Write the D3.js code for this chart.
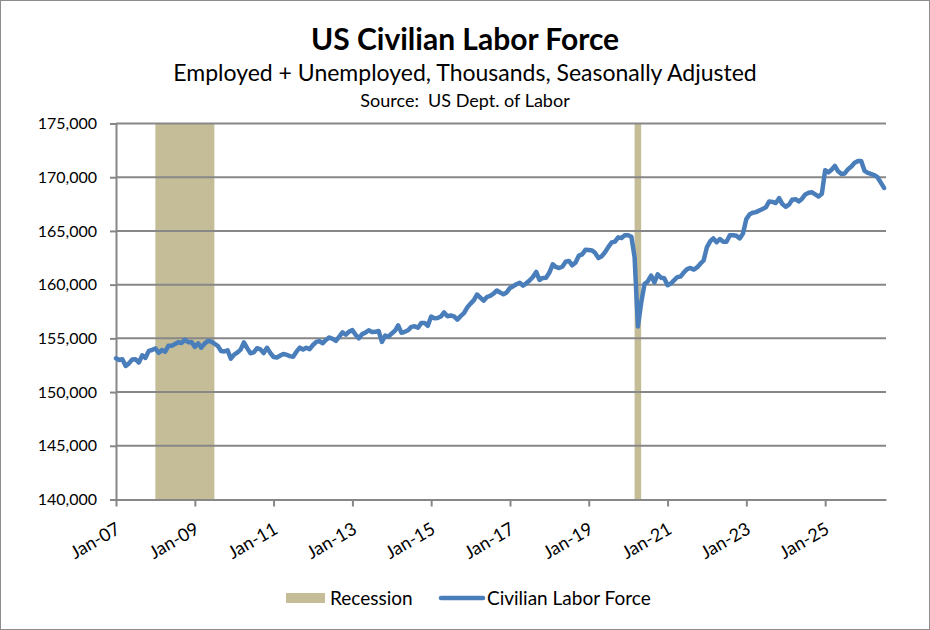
<!DOCTYPE html>
<html>
<head>
<meta charset="utf-8">
<script src="https://cdn.jsdelivr.net/npm/d3@7"></script>
<style>
  html, body { margin: 0; padding: 0; background: #fff; }
  svg { display: block; font-family: Lato, "Open Sans", sans-serif; }
  text { white-space: pre; }
</style>
</head>
<body>
<svg id="chart" width="930" height="630"></svg>
<script>
// ---- Data (thousands, monthly, seasonally adjusted), starting Jan 2007 ----
const seriesStart = "2007-01";
const clf2007 = [153144,152983,153051,152435,152670,153041,153054,152749,153414,153183,153835,153918];
const clf2008 = [154063,153653,153908,153769,154303,154313,154469,154641,154570,154876,154639,154655];
const clf2009 = [154210,154538,154133,154509,154747,154716,154502,154307,153827,153784,153878,153111];
const clf2010 = [153484,153694,153954,154622,154091,153616,153691,154086,153975,153635,154125,153650];
const clf2011 = [153263,153214,153376,153543,153479,153346,153288,153760,154131,153961,154128,153995];
const clf2012 = [154381,154671,154749,154545,154866,155083,154948,154763,155160,155554,155338,155628];
const clf2013 = [155763,155312,155005,155394,155536,155749,155599,155605,155687,154673,155265,155160];
const clf2014 = [155460,155724,156209,155515,155611,155752,156071,156118,155982,156422,156441,156170];
const clf2015 = [157025,156878,156890,157032,157410,157064,157131,157044,156746,157068,157343,157869];
const clf2016 = [158232,158561,159082,158788,158502,158850,158961,159161,159454,159267,159107,159274];
const clf2017 = [159693,159854,160036,160169,159910,160124,160383,160706,161190,160436,160626,160636];
const clf2018 = [161123,161900,161646,161551,161667,162129,162209,161802,162055,162694,162821,163240];
const clf2019 = [163229,163184,162960,162470,162646,163017,163492,163922,164004,164401,164347,164600];
const clf2020 = [164600,164450,162550,156100,158300,160050,160300,160850,160200,160950,160650,160600];
const clf2021 = [159950,160100,160400,160700,160750,161150,161450,161550,161400,161600,161950,162250];
const clf2022 = [163500,164050,164300,163950,164250,164000,164000,164600,164600,164550,164300,164750];
const clf2023 = [166100,166550,166700,166750,166900,167050,167200,167750,167700,167600,168050,167500];
const clf2024 = [167250,167450,167900,167950,167750,168000,168400,168550,168600,168400,168200,168450];
const clf2025 = [170650,170450,170700,171050,170550,170300,170350,170750,171000,171350,171500,171500];
const clf2026 = [170600,170400,170300,170200,170000,169500,169000];

// Recession periods (months flagged as recession: first and last flagged month)
const recessionStarts = ["2008-01", "2020-03"];
const recessionEnds   = ["2009-06", "2020-04"];

const yTicks = [140000,145000,150000,155000,160000,165000,170000,175000];
const xTickLabels = ["Jan-07","Jan-09","Jan-11","Jan-13","Jan-15","Jan-17","Jan-19","Jan-21","Jan-23","Jan-25"];
const xTickDates  = ["2007-01","2009-01","2011-01","2013-01","2015-01","2017-01","2019-01","2021-01","2023-01","2025-01"];

const titleText = "US Civilian Labor Force";
const subtitleText = "Employed + Unemployed, Thousands, Seasonally Adjusted";
const sourceText = "Source:  US Dept. of Labor";
const legendLabels = ["Recession", "Civilian Labor Force"];

// ---- Build ----
const parseMonth = d3.timeParse("%Y-%m");
const allValues = [].concat(clf2007,clf2008,clf2009,clf2010,clf2011,clf2012,clf2013,clf2014,
  clf2015,clf2016,clf2017,clf2018,clf2019,clf2020,clf2021,clf2022,clf2023,clf2024,clf2025,clf2026);
const start = parseMonth(seriesStart);
const data = allValues.map((v, i) => ({ date: d3.timeMonth.offset(start, i), value: v }));

const svg = d3.select("#chart");
const W = 930, H = 630;
const plot = { left: 116, right: 886, top: 123.5, bottom: 499.5 };

const lastDate = data[data.length - 1].date;
const x = d3.scaleTime()
  .domain([start, d3.timeDay.offset(lastDate, 18)])
  .range([plot.left, plot.right]);
const y = d3.scaleLinear().domain([140000, 175000]).range([plot.bottom, plot.top]);

const gridColor = "#878787";
const lineColor = "#4A7EBB";
const recColor = "#C4BD97";

// outer border
svg.append("rect").attr("x", 0.5).attr("y", 0.5).attr("width", W - 1).attr("height", H - 1)
  .attr("fill", "#fff").attr("stroke", "#8c8c8c").attr("stroke-width", 1);

// titles
svg.append("text").attr("x", 465).attr("y", 50).attr("text-anchor", "middle")
  .attr("font-size", 30).attr("font-weight", "bold").attr("fill", "#000").text(titleText);
svg.append("text").attr("x", 465).attr("y", 81).attr("text-anchor", "middle")
  .attr("font-size", 23).attr("fill", "#000").text(subtitleText);
svg.append("text").attr("x", 465).attr("y", 107).attr("text-anchor", "middle")
  .attr("font-size", 18).attr("fill", "#000").text(sourceText);

// recession bands
const recs = recessionStarts.map((s, i) => ({ s: parseMonth(s), e: d3.timeMonth.offset(parseMonth(recessionEnds[i]), 1) }));
svg.append("g").selectAll("rect").data(recs).join("rect")
  .attr("x", d => x(d.s)).attr("width", d => x(d.e) - x(d.s))
  .attr("y", plot.top).attr("height", plot.bottom - plot.top)
  .attr("fill", recColor);

// gridlines
svg.append("g").selectAll("line").data(yTicks.filter(t => t > 140000)).join("line")
  .attr("x1", plot.left).attr("x2", plot.right)
  .attr("y1", d => y(d)).attr("y2", d => y(d))
  .attr("stroke", gridColor).attr("stroke-width", 2);

// y axis
const yAxis = d3.axisLeft(y).tickValues(yTicks).tickFormat(d3.format(",")).tickSize(6).tickPadding(13);
const gy = svg.append("g").attr("transform", `translate(${plot.left},0)`).call(yAxis);
gy.select(".domain").attr("stroke", gridColor).attr("stroke-width", 2);
gy.selectAll(".tick line").attr("stroke", gridColor).attr("stroke-width", 2);
gy.selectAll(".tick text").attr("font-size", 16).attr("font-family", "Lato, sans-serif").attr("fill", "#000");

// x axis
const xTickVals = xTickDates.map(parseMonth);
const xAxis = d3.axisBottom(x).tickValues(xTickVals)
  .tickFormat((d, i) => xTickLabels[i]).tickSize(7).tickSizeOuter(0);
const gx = svg.append("g").attr("transform", `translate(0,${plot.bottom})`).call(xAxis);
gx.select(".domain").attr("stroke", gridColor).attr("stroke-width", 2);
gx.selectAll(".tick line").attr("stroke", gridColor).attr("stroke-width", 2);
gx.selectAll(".tick text")
  .attr("font-size", 18).attr("font-family", "Lato, sans-serif").attr("fill", "#000")
  .attr("text-anchor", "end")
  .attr("x", 0).attr("y", 0).attr("dy", null)
  .attr("transform", "translate(5,33) rotate(-30)");

// line
const line = d3.line().x(d => x(d.date)).y(d => y(d.value)).curve(d3.curveLinear);
svg.append("path").datum(data).attr("d", line)
  .attr("fill", "none").attr("stroke", lineColor).attr("stroke-width", 4.5)
  .attr("stroke-linejoin", "round").attr("stroke-linecap", "round");

// legend
const lg = svg.append("g");
lg.append("rect").attr("x", 286).attr("y", 593).attr("width", 39).attr("height", 10).attr("fill", recColor);
lg.append("text").attr("x", 330).attr("y", 605).attr("font-size", 19).attr("fill", "#000").text(legendLabels[0]);
lg.append("line").attr("x1", 441).attr("x2", 483).attr("y1", 598).attr("y2", 598)
  .attr("stroke", lineColor).attr("stroke-width", 4.5).attr("stroke-linecap", "round");
lg.append("text").attr("x", 487).attr("y", 605).attr("font-size", 19).attr("fill", "#000").text(legendLabels[1]);
</script>
</body>
</html>
